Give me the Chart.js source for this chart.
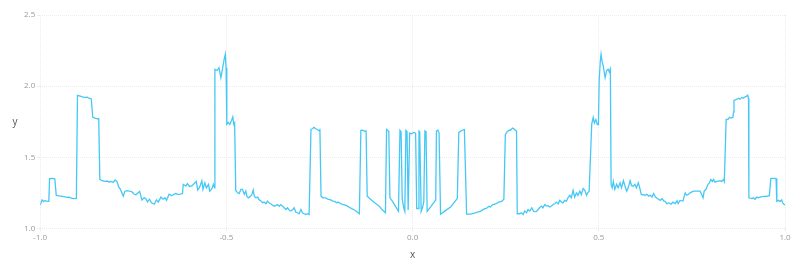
<!DOCTYPE html>
<html>
<head>
<meta charset="utf-8">
<script src="https://cdn.jsdelivr.net/npm/chart.js@4.4.1/dist/chart.umd.min.js"></script>
<style>
  html, body { margin: 0; padding: 0; background: #fff; }
  #wrap { position: relative; width: 800px; height: 267px; }
</style>
</head>
<body>
<div id="wrap"><canvas id="chart"></canvas></div>
<script>
// x positions of the traced line (left to right)
const xs = [
  -1.000, -0.995, -0.991, -0.987, -0.981, -0.977, -0.975, -0.968, -0.961, -0.957, -0.949, -0.941, -0.933, -0.928, -0.922, -0.917, -0.909, -0.903,
  -0.900, -0.893, -0.887, -0.879, -0.874, -0.869, -0.863, -0.859, -0.853, -0.847, -0.843,
  -0.840, -0.834, -0.826, -0.820, -0.815, -0.810, -0.804, -0.799, -0.794, -0.789,
  -0.785, -0.777, -0.773, -0.767, -0.761, -0.756, -0.751, -0.748, -0.743, -0.737,
  -0.733, -0.727, -0.721, -0.717, -0.712, -0.707, -0.701, -0.694, -0.688, -0.683,
  -0.676, -0.670, -0.665, -0.661, -0.654, -0.647, -0.641, -0.636, -0.629, -0.618,
  -0.616, -0.609, -0.605, -0.599, -0.592, -0.581, -0.577, -0.572, -0.566, -0.563, -0.558, -0.554, -0.548, -0.545, -0.540, -0.535, -0.532,
  -0.531, -0.525, -0.520, -0.515, -0.510, -0.506, -0.503, -0.501,
  -0.499, -0.495, -0.491, -0.486, -0.483, -0.480, -0.478,
  -0.475, -0.470, -0.466, -0.461, -0.457, -0.452, -0.448, -0.445, -0.441, -0.436,
  -0.432, -0.428, -0.425, -0.421, -0.416, -0.412, -0.408, -0.403, -0.399, -0.394,
  -0.390, -0.385, -0.381, -0.376, -0.372, -0.367, -0.363, -0.358, -0.354, -0.349,
  -0.345, -0.340, -0.336, -0.331, -0.327, -0.322, -0.318, -0.314, -0.309, -0.305,
  -0.300, -0.296, -0.291, -0.287, -0.281, -0.278,
  -0.273, -0.269, -0.265, -0.260, -0.256, -0.251, -0.249,
  -0.246, -0.241, -0.233, -0.228, -0.220, -0.214, -0.209, -0.204, -0.200, -0.196, -0.188, -0.177, -0.166, -0.155, -0.143,
  -0.139, -0.134, -0.129, -0.125,
  -0.122, -0.113, -0.102, -0.091, -0.083, -0.073,
  -0.070, -0.064, -0.061, -0.054, -0.046, -0.038, -0.034, -0.031, -0.028, -0.024,
  -0.021, -0.018, -0.015, -0.012, -0.008, -0.003, 0.003, 0.008, 0.011, 0.015,
  0.017, 0.019, 0.023, 0.027, 0.030, 0.033, 0.036, 0.039, 0.048, 0.062,
  0.064, 0.068, 0.071, 0.075, 0.088, 0.102, 0.120,
  0.124, 0.133, 0.139,
  0.145, 0.155, 0.166, 0.174, 0.182, 0.191, 0.198, 0.205, 0.209, 0.214, 0.223, 0.231, 0.239, 0.245,
  0.249, 0.254, 0.259, 0.263, 0.268, 0.272, 0.276, 0.279,
  0.281, 0.288, 0.292, 0.297, 0.301, 0.306, 0.310, 0.315, 0.320, 0.325,
  0.332, 0.337, 0.341, 0.346, 0.350, 0.355, 0.359, 0.364, 0.368, 0.373,
  0.377, 0.382, 0.386, 0.391, 0.395, 0.400, 0.404, 0.408, 0.413, 0.417,
  0.422, 0.426, 0.431, 0.435, 0.440, 0.444, 0.449, 0.453, 0.458, 0.462,
  0.467, 0.470, 0.474,
  0.481, 0.485, 0.488, 0.492, 0.496, 0.499,
  0.501, 0.504, 0.506, 0.509, 0.512, 0.517, 0.521, 0.525, 0.528, 0.531,
  0.533, 0.536, 0.539, 0.543, 0.548, 0.552, 0.557, 0.561, 0.566, 0.570,
  0.575, 0.579, 0.584, 0.588, 0.592, 0.597, 0.601, 0.606, 0.610,
  0.614, 0.624, 0.629, 0.634, 0.638, 0.643, 0.647, 0.652, 0.660, 0.665,
  0.670, 0.674, 0.678, 0.683, 0.687, 0.694, 0.699, 0.705, 0.710, 0.713,
  0.718, 0.726,
  0.732, 0.736, 0.741, 0.745, 0.754, 0.763, 0.772, 0.777, 0.780, 0.783,
  0.788, 0.793, 0.797, 0.801, 0.805, 0.808, 0.812, 0.817, 0.821, 0.826,
  0.830, 0.835, 0.837,
  0.842, 0.847, 0.851, 0.855, 0.860, 0.862, 0.863, 0.871, 0.875, 0.879, 0.884, 0.888, 0.893, 0.897, 0.900, 0.902,
  0.903, 0.911, 0.915, 0.920, 0.924, 0.929, 0.933, 0.942, 0.951, 0.958,
  0.962, 0.969, 0.976,
  0.978, 0.982, 0.987, 0.991, 0.994, 0.997, 1.000
];

// y values, same order as xs
const ys = [
  1.165, 1.20, 1.19, 1.195, 1.19, 1.19, 1.35, 1.352, 1.348, 1.232, 1.228, 1.225, 1.222, 1.218, 1.22, 1.212, 1.21, 1.211,
  1.935, 1.93, 1.925, 1.92, 1.922, 1.915, 1.91, 1.783, 1.775, 1.77, 1.772,
  1.345, 1.335, 1.33, 1.333, 1.325, 1.33, 1.323, 1.34, 1.33, 1.29,
  1.276, 1.227, 1.26, 1.265, 1.262, 1.26, 1.25, 1.24, 1.236, 1.25,
  1.26, 1.20, 1.215, 1.21, 1.185, 1.205, 1.18, 1.17, 1.20, 1.185,
  1.22, 1.205, 1.215, 1.198, 1.24, 1.23, 1.24, 1.245, 1.238, 1.245,
  1.31, 1.298, 1.315, 1.295, 1.30, 1.33, 1.27, 1.29, 1.335, 1.275, 1.32, 1.285, 1.31, 1.262, 1.274, 1.31, 1.285,
  2.118, 2.11, 2.13, 2.06, 2.13, 2.19, 2.224, 2.13,
  1.731, 1.745, 1.73, 1.76, 1.783, 1.73, 1.74,
  1.267, 1.25, 1.245, 1.275, 1.275, 1.24, 1.262, 1.225, 1.215, 1.225,
  1.235, 1.27, 1.225, 1.215, 1.22, 1.20, 1.195, 1.18, 1.185, 1.173,
  1.192, 1.178, 1.173, 1.163, 1.155, 1.162, 1.167, 1.155, 1.167, 1.155,
  1.145, 1.133, 1.145, 1.127, 1.122, 1.133, 1.145, 1.115, 1.11, 1.103,
  1.133, 1.11, 1.103, 1.098, 1.103, 1.098,
  1.696, 1.70, 1.71, 1.70, 1.695, 1.685, 1.70,
  1.227, 1.215, 1.215, 1.205, 1.20, 1.192, 1.19, 1.18, 1.185, 1.178, 1.168, 1.16, 1.142, 1.128, 1.103,
  1.689, 1.69, 1.683, 1.685,
  1.227, 1.205, 1.18, 1.16, 1.135, 1.11,
  1.696, 1.683, 1.215, 1.19, 1.155, 1.12, 1.69, 1.68, 1.21, 1.145,
  1.12, 1.69, 1.68, 1.13, 1.67, 1.665, 1.675, 1.67, 1.14, 1.14,
  1.685, 1.68, 1.12, 1.15, 1.19, 1.685, 1.68, 1.12, 1.15, 1.20,
  1.685, 1.69, 1.67, 1.10, 1.125, 1.15, 1.21,
  1.675, 1.69, 1.695,
  1.10, 1.10, 1.108, 1.115, 1.12, 1.135, 1.14, 1.155, 1.15, 1.165, 1.172, 1.185, 1.19, 1.205,
  1.66, 1.68, 1.69, 1.69, 1.705, 1.70, 1.69, 1.685,
  1.103, 1.103, 1.11, 1.098, 1.122, 1.11, 1.133, 1.122, 1.145, 1.12,
  1.118, 1.133, 1.145, 1.157, 1.145, 1.168, 1.157, 1.16, 1.15, 1.157,
  1.168, 1.173, 1.185, 1.173, 1.197, 1.185, 1.18, 1.197, 1.192, 1.215,
  1.233, 1.215, 1.267, 1.22, 1.25, 1.233, 1.262, 1.238, 1.28, 1.27,
  1.233, 1.25, 1.26,
  1.735, 1.78, 1.74, 1.765, 1.73, 1.73,
  2.04, 2.177, 2.224, 2.17, 2.14, 2.06, 2.11, 2.12, 2.10, 2.12,
  1.31, 1.285, 1.33, 1.275, 1.31, 1.285, 1.32, 1.285, 1.335, 1.30,
  1.262, 1.285, 1.335, 1.30, 1.297, 1.31, 1.285, 1.32, 1.285,
  1.239, 1.233, 1.24, 1.227, 1.233, 1.22, 1.245, 1.22, 1.205, 1.197,
  1.21, 1.193, 1.19, 1.172, 1.18, 1.17, 1.185, 1.175, 1.195, 1.175,
  1.197, 1.192,
  1.25, 1.233, 1.24, 1.25, 1.262, 1.262, 1.262, 1.233, 1.215, 1.262,
  1.275, 1.31, 1.32, 1.344, 1.33, 1.344, 1.325, 1.33, 1.333, 1.335,
  1.33, 1.344, 1.33,
  1.766, 1.766, 1.78, 1.775, 1.78, 1.82, 1.90, 1.908, 1.915, 1.908, 1.92, 1.915, 1.925, 1.93, 1.936, 1.915,
  1.215, 1.21, 1.215, 1.205, 1.22, 1.215, 1.22, 1.225, 1.225, 1.23,
  1.352, 1.352, 1.35,
  1.19, 1.197, 1.19, 1.20, 1.18, 1.17, 1.164
];

const xTicks = [-1.0, -0.5, 0.0, 0.5, 1.0];
const yTicks = [1.0, 1.5, 2.0, 2.5];

const LINE_COLOR = "#45c8f6";
const GRID_COLOR = "#ececec";
const TICK_COLOR = "#999";
const TITLE_COLOR = "#555";
const FONT = "'Open Sans', 'DejaVu Sans', sans-serif";

const points = xs.map((x, i) => ({ x, y: ys[i] }));

// y title is drawn upright, left of the axis
const uprightYTitle = {
  id: "uprightYTitle",
  afterDraw(chart) {
    const { ctx, chartArea } = chart;
    ctx.save();
    ctx.fillStyle = TITLE_COLOR;
    ctx.font = `10px ${FONT}`;
    ctx.textAlign = "center";
    ctx.textBaseline = "middle";
    ctx.fillText("y", 15, (chartArea.top + chartArea.bottom) / 2);
    ctx.restore();
  },
};

new Chart(document.getElementById("chart"), {
  type: "line",
  data: {
    datasets: [
      {
        data: points,
        borderColor: LINE_COLOR,
        borderWidth: 1.3,
        pointRadius: 0,
        tension: 0,
        fill: false,
      },
    ],
  },
  options: {
    responsive: true,
    maintainAspectRatio: false,
    animation: false,
    layout: { padding: { top: 15, right: 15, bottom: 6, left: 22 } },
    plugins: { legend: { display: false }, tooltip: { enabled: false } },
    scales: {
      x: {
        type: "linear",
        min: -1,
        max: 1,
        afterBuildTicks: (axis) => { axis.ticks = xTicks.map((v) => ({ value: v })); },
        grid: { color: GRID_COLOR, tickLength: 3 },
        border: { display: false, dash: [1, 1] },
        ticks: {
          color: TICK_COLOR,
          font: { family: FONT, size: 8 },
          padding: 2,
          maxRotation: 0,
          callback: (v) => Number(v).toFixed(1),
        },
        title: {
          display: true,
          text: "x",
          color: TITLE_COLOR,
          font: { family: FONT, size: 10 },
          padding: { top: 4, bottom: 0 },
        },
      },
      y: {
        type: "linear",
        min: 1,
        max: 2.5,
        afterBuildTicks: (axis) => { axis.ticks = yTicks.map((v) => ({ value: v })); },
        grid: { color: GRID_COLOR, tickLength: 3 },
        border: { display: false, dash: [1, 1] },
        ticks: {
          color: TICK_COLOR,
          font: { family: FONT, size: 8 },
          padding: 2,
          callback: (v) => Number(v).toFixed(1),
        },
      },
    },
  },
  plugins: [uprightYTitle],
});
</script>
</body>
</html>
